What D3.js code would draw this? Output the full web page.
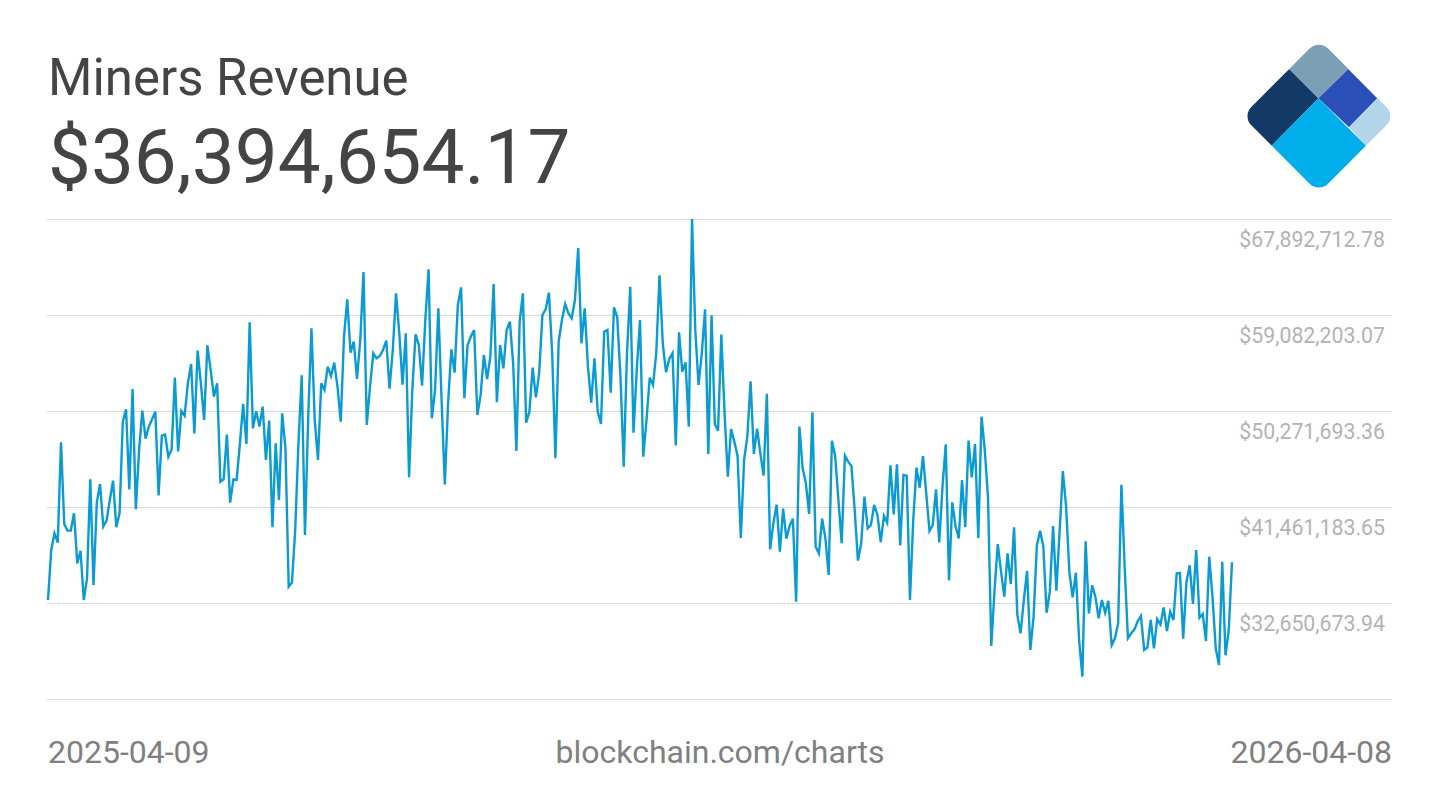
<!DOCTYPE html>
<html><head><meta charset="utf-8">
<script src="https://cdn.jsdelivr.net/npm/d3@7/dist/d3.min.js"></script>
<style>html,body{margin:0;padding:0;background:#fff}svg{display:block}text{font-family:Roboto,sans-serif}</style>
</head><body><svg id="c" width="1440" height="810"></svg>
<script>
const titleText = "Miners Revenue";
const latestValue = "$36,394,654.17";
const startDate = "2025-04-09";
const endDate = "2026-04-08";
const sourceText = "blockchain.com/charts";
const tickVals = [67892712.78, 59082203.07, 50271693.36, 41461183.65, 32650673.94, 23840164.23];
const tickLabels = ["$67,892,712.78", "$59,082,203.07", "$50,271,693.36", "$41,461,183.65", "$32,650,673.94", ""];
// daily miners revenue, millions of USD
const revenueM = [
32.93,37.52,39.05,38.19,47.40,39.90,39.29,39.29,40.88,36.29,37.45,32.93,34.92,44.00,34.30,41.86,43.57,39.66,40.21,42.10,
43.88,39.60,40.88,49.29,50.43,43.08,52.29,41.25,46.69,50.30,47.73,48.84,49.51,50.21,42.53,48.01,48.10,46.08,46.75,53.33,
46.57,50.27,49.84,52.81,54.59,48.22,55.81,52.81,49.45,56.30,54.04,51.59,52.81,43.79,44.00,48.10,41.86,44.00,43.94,47.31,
50.92,47.24,58.41,48.68,50.24,48.84,50.67,45.78,49.39,39.60,47.31,42.10,50.06,46.85,34.15,34.52,39.35,47.31,53.55,38.89,
49.75,57.86,49.45,45.78,52.81,52.20,54.34,53.49,54.71,52.51,49.29,57.10,60.52,55.63,56.64,53.21,56.79,63.03,48.99,52.51,
55.57,55.11,55.32,55.87,56.73,52.32,55.87,61.07,57.40,52.69,57.40,44.19,52.20,57.31,56.33,52.60,58.62,63.27,49.60,52.20,
59.70,51.28,43.54,50.98,55.93,53.79,60.00,61.62,51.44,56.33,57.10,57.71,49.91,51.74,55.41,53.21,55.26,61.93,51.07,56.33,
54.19,57.71,58.47,54.65,46.60,58.47,61.07,49.20,50.21,54.25,51.53,53.73,59.08,59.60,61.13,55.57,45.93,56.64,58.62,60.09,
59.24,58.78,60.46,65.23,56.48,59.70,54.34,51.04,55.11,50.21,49.08,57.55,57.71,51.96,59.79,58.87,53.42,45.16,55.57,61.68,
48.28,54.04,58.62,46.08,49.45,53.33,52.66,55.57,62.72,56.48,53.82,55.05,55.57,47.12,57.49,53.88,54.74,48.84,67.89,57.71,
52.66,55.57,59.60,46.33,59.05,49.08,48.47,57.28,50.06,44.25,48.62,47.46,46.14,38.62,45.78,47.92,53.00,46.33,48.65,46.39,
44.34,51.86,37.58,39.96,41.68,37.36,41.31,38.56,39.72,40.39,32.77,48.84,45.01,43.63,40.82,50.15,37.82,37.21,40.39,38.59,
35.22,47.55,46.14,42.10,38.13,46.17,45.62,45.23,41.19,36.54,38.13,42.41,39.50,39.81,41.65,40.73,38.25,40.64,40.02,45.29,
40.79,45.38,37.94,44.40,44.34,32.93,40.27,45.07,43.23,46.14,42.71,39.26,39.81,43.08,38.22,43.33,47.21,34.73,41.89,39.72,
38.58,43.94,39.62,47.55,44.18,47.24,38.61,49.75,46.69,42.26,28.70,33.84,38.06,35.53,33.23,37.21,34.39,39.59,31.55,29.87,
32.92,35.59,28.34,31.40,37.91,39.29,37.82,31.76,33.69,39.72,33.78,39.20,44.76,41.49,35.53,33.17,35.43,29.25,25.89,38.31,
31.70,34.27,33.23,31.24,32.92,31.76,32.86,28.79,29.41,30.78,43.51,35.98,29.41,29.87,30.23,30.97,31.46,28.34,28.58,31.09,
28.49,31.18,30.69,32.25,30.08,31.85,31.09,35.37,35.40,29.38,34.61,36.11,32.56,37.51,31.30,31.64,29.16,36.90,33.23,28.49,
26.96,36.44,27.85,30.17,36.39];

const svg = d3.select("#c");
const parseDay = d3.utcParse("%Y-%m-%d");
const dates = d3.utcDay.range(parseDay(startDate), d3.utcDay.offset(parseDay(endDate), 1));
const series = dates.map((d, i) => ({date: d, value: revenueM[i] * 1e6}));

const x = d3.scaleUtc().domain([parseDay(startDate), parseDay(endDate)]).range([48, 1232]);
const y = d3.scaleLinear().domain([tickVals[5], tickVals[0]]).range([699, 219]);

// gridlines + right-hand labels
const axis = d3.axisRight(y).tickValues(tickVals).tickSize(0).tickPadding(0)
  .tickFormat(v => tickLabels[tickVals.indexOf(v)]);
const gAxis = svg.append("g").attr("transform", "translate(0,0)").call(axis);
gAxis.select(".domain").remove();
gAxis.selectAll(".tick line").attr("x1", 47).attr("x2", 1392).attr("stroke", "#d8d8d8").attr("stroke-width", 1.2);
gAxis.selectAll(".tick text")
  .attr("x", 1385).attr("y", 20).attr("dy", "0.36em").attr("text-anchor", "end")
  .attr("fill", "#b3b3b3").style("font-size", "21.3px").style("font-family", "Roboto, sans-serif");

// series
svg.append("path").datum(series)
  .attr("fill", "none").attr("stroke", "#0a9bd2").attr("stroke-width", 2.4).attr("stroke-linejoin", "miter")
  .attr("d", d3.line().x(d => x(d.date)).y(d => y(d.value)));

// heading
svg.append("text").attr("x", 48).attr("y", 95).attr("fill", "#444444").style("font-size", "50.9px").text(titleText);
svg.append("text").attr("x", 48).attr("y", 183).attr("fill", "#444444").style("font-size", "76.4px").text(latestValue);

// footer
svg.append("text").attr("x", 48).attr("y", 763).attr("fill", "#808080").style("font-size", "32px").text(startDate);
svg.append("text").attr("x", 720).attr("y", 763).attr("text-anchor", "middle").attr("fill", "#808080").style("font-size", "32px").text(sourceText);
svg.append("text").attr("x", 1392).attr("y", 763).attr("text-anchor", "end").attr("fill", "#808080").style("font-size", "32px").text(endDate);

// logo
const defs = svg.append("defs");
defs.append("clipPath").attr("id", "logoClip").append("rect")
  .attr("x", 1318.85 - 54.25).attr("y", 116.15 - 54.25).attr("width", 108.5).attr("height", 108.5)
  .attr("rx", 13).attr("transform", "rotate(45 1318.85 116.15)");
const logo = svg.append("g").attr("clip-path", "url(#logoClip)");
const logoPanels = [
  ["#133a66", "1289.3,69 1318.4,98.3 1271.7,145.7 1230,116"],
  ["#7c9fb5", "1289.3,69 1318.8,30 1348.3,69 1318.4,98.3"],
  ["#2a4fb8", "1318.4,98.3 1348.3,69 1377.3,98.3 1349,127.3"],
  ["#b2d5e9", "1377.3,98.3 1410,116 1366,145.7 1349,127.3"],
  ["#00aeea", "1318.4,98.3 1366,145.7 1318.8,200 1271.7,145.7"]
];
logo.selectAll("polygon").data(logoPanels).join("polygon")
  .attr("fill", d => d[0]).attr("points", d => d[1]);
</script></body></html>
